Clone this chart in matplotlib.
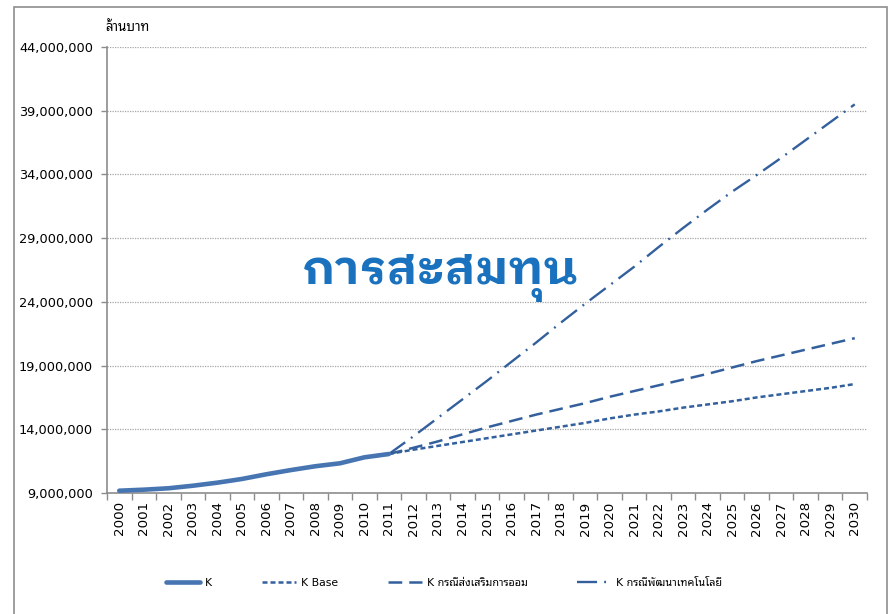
import matplotlib
matplotlib.use("Agg")
import matplotlib.pyplot as plt
from matplotlib.patches import Rectangle
from matplotlib.ticker import FuncFormatter, FixedLocator
import numpy as np

plt.rcParams['font.family'] = ['DejaVu Sans', 'Noto Sans Thai Looped']

years = [str(y) for y in range(2000, 2031)]
k_years = years[:12]
k_hist = [9.18, 9.26, 9.37, 9.57, 9.81, 10.10, 10.47, 10.80, 11.10, 11.33, 11.80, 12.06]
f_years = years[11:]
k_base = [12.06, 12.40, 12.70, 13.00, 13.30, 13.60, 13.90, 14.20, 14.50, 14.85,
          15.15, 15.40, 15.70, 15.95, 16.20, 16.50, 16.75, 17.00, 17.25, 17.55]
k_saving = [12.06, 12.55, 13.05, 13.60, 14.15, 14.65, 15.15, 15.60, 16.05, 16.55,
            17.00, 17.45, 17.90, 18.35, 18.85, 19.35, 19.80, 20.25, 20.70, 21.15]
k_tech = [12.06, 13.45, 14.90, 16.35, 17.80, 19.30, 20.80, 22.35, 23.85, 25.30,
          26.75, 28.30, 29.80, 31.25, 32.65, 33.95, 35.30, 36.70, 38.10, 39.50]
y_ticks = [9, 14, 19, 24, 29, 34, 39, 44]

series_names = ['K', 'K Base', 'K กรณีส่งเสริมการออม', 'K กรณีพัฒนาเทคโนโลยี']
title = 'การสะสมทุน'
unit_label = 'ล้านบาท'

fig = plt.figure(figsize=(8.93, 6.14), dpi=100)
ax = fig.add_axes([107/893, 1-493/614, 760/893, 446/614])

xi = {y: i for i, y in enumerate(years)}
fx = [xi[y] for y in f_years]
kx = [xi[y] for y in k_years]
M = 1e6

dark = '#33609d'
ax.plot(fx, np.array(k_base)*M, color=dark, lw=1.8, dashes=(2.0, 1.2), label=series_names[1], zorder=3)
ax.plot(fx, np.array(k_saving)*M, color=dark, lw=1.8, dashes=(5.5, 2.8), label=series_names[2], zorder=3)
ax.plot(fx, np.array(k_tech)*M, color=dark, lw=1.7, dashes=(8.5, 3.0, 0.8, 3.0), label=series_names[3], zorder=3)
ax.plot(kx, np.array(k_hist)*M, color='#4775b2', lw=3.3, solid_capstyle='round', label=series_names[0], zorder=4)

ax.set_xlim(-0.5, len(years)-0.5)
ax.set_ylim(y_ticks[0]*M, y_ticks[-1]*M)
ax.set_yticks([v*M for v in y_ticks])
ax.yaxis.set_major_formatter(FuncFormatter(lambda v, p: f'{v:,.0f}'))
ax.set_xticks(range(len(years)))
ax.set_xticklabels(years, rotation=90)
ax.xaxis.set_minor_locator(FixedLocator(np.arange(-0.5, len(years), 1.0)))
ax.tick_params(axis='x', which='major', length=0, pad=6, labelsize=9.6, colors='black')
ax.tick_params(axis='x', which='minor', length=5, width=1, color='#8c8c8c')
ax.tick_params(axis='y', which='major', length=4, width=1, color='#8c8c8c', labelsize=9.3, pad=6)

for v in y_ticks[1:]:
    ax.axhline(v*M, color='#a6a6a6', lw=0.9, ls=(0, (1, 1)), zorder=1)

for s in ['top', 'right']:
    ax.spines[s].set_visible(False)
for s in ['left', 'bottom']:
    ax.spines[s].set_color('#8c8c8c')
    ax.spines[s].set_linewidth(1.2)

fig.text(105/893, 1-31/614, unit_label, fontsize=9.5, ha='left', va='baseline',
         family=['Noto Sans Thai Looped', 'DejaVu Sans'])
fig.text(440/893, 1-284/614, title, fontsize=34.5, fontweight='bold', color='#1a72be',
         ha='center', va='baseline', family=['IBM Plex Sans Thai Looped', 'Noto Sans Thai Looped', 'DejaVu Sans'])

handles, labels = ax.get_legend_handles_labels()
order = [3, 0, 1, 2]
leg = fig.legend([handles[i] for i in order], [labels[i] for i in order],
                 loc='center', bbox_to_anchor=(444/893, 1-583/614), ncol=4, frameon=False,
                 handlelength=3.2, handletextpad=0.4, columnspacing=4.6,
                 prop={'family': ['DejaVu Sans', 'Noto Sans Thai Looped'], 'size': 7.8})

fig.patches.append(Rectangle((14/893, -0.1), (887-14)/893, 1.1-7/614, transform=fig.transFigure,
                             fill=False, edgecolor='#8e8e8e', lw=1.2))

fig.savefig('out.png', dpi=100)
